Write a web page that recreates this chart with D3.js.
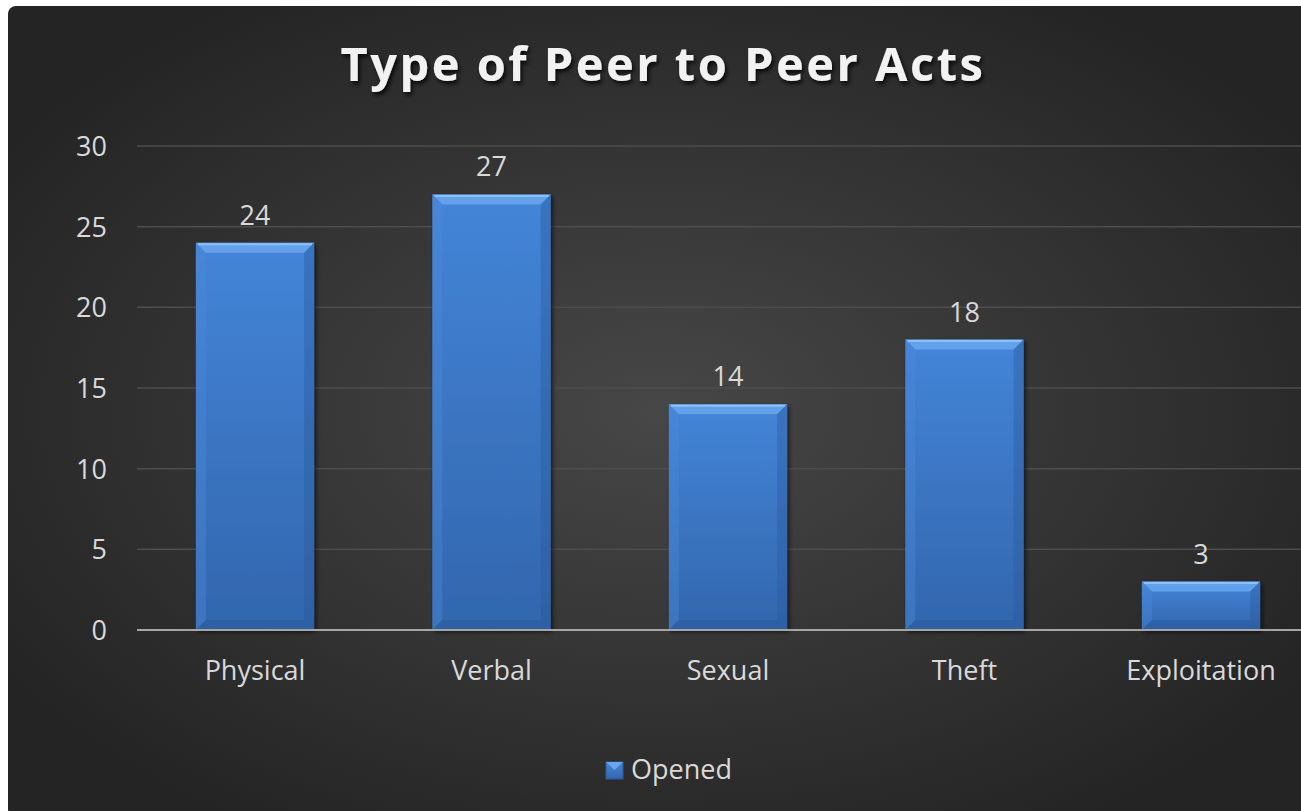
<!DOCTYPE html>
<html><head><meta charset="utf-8">
<script src="https://cdn.jsdelivr.net/npm/d3@7/dist/d3.min.js"></script>
<style>html,body{margin:0;padding:0;background:#fff;overflow:hidden}</style>
</head><body>
<svg id="c" width="1301" height="811"></svg>
<script>
const categories = ["Physical","Verbal","Sexual","Theft","Exploitation"];
const opened = [24,27,14,18,3];
const yTicks = [0,5,10,15,20,25,30];
const title = "Type of Peer to Peer Acts";
const seriesName = "Opened";

const svg = d3.select("#c");
const W = 1301, H = 811;
const defs = svg.append("defs");
const bg = defs.append("radialGradient").attr("id","bg").attr("cx","50%").attr("cy","50%").attr("r","60%");
bg.append("stop").attr("offset","0%").attr("stop-color","#474747");
bg.append("stop").attr("offset","100%").attr("stop-color","#242424");
const bar = defs.append("linearGradient").attr("id","bar").attr("x1",0).attr("y1",0).attr("x2",0).attr("y2",1);
bar.append("stop").attr("offset","0%").attr("stop-color","#4485d8");
bar.append("stop").attr("offset","100%").attr("stop-color","#3266ad");
const sh = defs.append("filter").attr("id","ts").attr("x","-10%").attr("y","-20%").attr("width","120%").attr("height","150%");
sh.append("feDropShadow").attr("dx",2).attr("dy",3).attr("stdDeviation",2).attr("flood-color","#000").attr("flood-opacity",0.8);
const bsh = defs.append("filter").attr("id","bs").attr("x","-10%").attr("y","-10%").attr("width","130%").attr("height","130%");
bsh.append("feDropShadow").attr("dx",2).attr("dy",2).attr("stdDeviation",2).attr("flood-color","#000").attr("flood-opacity",0.6);

svg.append("rect").attr("x",8).attr("y",6).attr("width",W).attr("height",H).attr("rx",8).attr("fill","url(#bg)");

const font = "'Open Sans', sans-serif";
svg.append("text").attr("x",663).attr("y",81).attr("text-anchor","middle")
  .attr("font-family",font).attr("font-weight","bold").attr("font-size",47)
  .attr("letter-spacing","2.5px").attr("fill","#f2f2f2").attr("filter","url(#ts)").text(title);

const x = d3.scaleBand().domain(categories).range([136.75,1319.25]).paddingInner(0.5).paddingOuter(0.25);
const y = d3.scaleLinear().domain([0,30]).range([630,146]);

const grid = svg.append("g");
grid.selectAll("line").data(yTicks.filter(t=>t>0)).join("line")
  .attr("x1",137).attr("x2",W).attr("y1",d=>y(d)).attr("y2",d=>y(d))
  .attr("stroke","#4d4d4d").attr("stroke-width",1.5);

const fs = 27;
const yAxis = svg.append("g").attr("transform","translate(107,0)")
  .call(d3.axisLeft(y).tickValues(yTicks).tickSize(0).tickPadding(0));
yAxis.select(".domain").remove();
yAxis.selectAll("text").attr("font-family",font).attr("font-size",fs).attr("fill","#d9d9d9").attr("dy","0.35em");

const bw = x.bandwidth();
const bev = 10;
const g = svg.append("g");
categories.forEach((c,i)=>{
  const x0 = x(c), x1 = x0+bw, y0 = y(opened[i]), y1 = y(0);
  const b = g.append("g").attr("filter","url(#bs)");
  b.append("rect").attr("x",x0).attr("y",y0).attr("width",bw).attr("height",y1-y0).attr("fill","url(#bar)");
  b.append("polygon").attr("points",`${x0},${y0} ${x1},${y0} ${x1-bev},${y0+bev} ${x0+bev},${y0+bev}`).attr("fill","#6aa6ee").attr("opacity",0.85);
  b.append("line").attr("x1",x0+2).attr("x2",x1-2).attr("y1",y0+1.5).attr("y2",y0+1.5).attr("stroke","#8cc0f7").attr("stroke-width",2);
  b.append("polygon").attr("points",`${x0},${y0} ${x0+bev},${y0+bev} ${x0+bev},${y1-bev} ${x0},${y1}`).attr("fill","#4a8ad9").attr("opacity",0.4);
  b.append("polygon").attr("points",`${x1},${y0} ${x1-bev},${y0+bev} ${x1-bev},${y1-bev} ${x1},${y1}`).attr("fill","#2a5a9c").attr("opacity",0.4);
  b.append("polygon").attr("points",`${x0},${y1} ${x0+bev},${y1-bev} ${x1-bev},${y1-bev} ${x1},${y1}`).attr("fill","#2a5a9c").attr("opacity",0.5);
  svg.append("text").attr("x",x0+bw/2).attr("y",y0-18).attr("text-anchor","middle")
    .attr("font-family",font).attr("font-size",fs).attr("fill","#d9d9d9").text(opened[i]);
});

svg.append("line").attr("x1",137).attr("x2",W).attr("y1",y(0)).attr("y2",y(0)).attr("stroke","#a6a6a6").attr("stroke-width",2);

const xAxis = svg.append("g").attr("transform","translate(0,671)")
  .call(d3.axisBottom(x).tickSize(0).tickPadding(0));
xAxis.select(".domain").remove();
xAxis.selectAll("text").attr("font-family",font).attr("font-size",fs).attr("fill","#d9d9d9").attr("dy","0.35em");

const lg = svg.append("g");
lg.append("rect").attr("x",606).attr("y",762).attr("width",17).attr("height",17).attr("fill","url(#bar)").attr("stroke","#2a5a9c");
lg.append("polygon").attr("points","606,762 623,762 614.5,770").attr("fill","#6aa6ee");
lg.append("text").attr("x",631).attr("y",770).attr("dy","0.35em").attr("font-family",font).attr("font-size",fs).attr("fill","#d9d9d9").text(seriesName);
</script>
</body></html>
